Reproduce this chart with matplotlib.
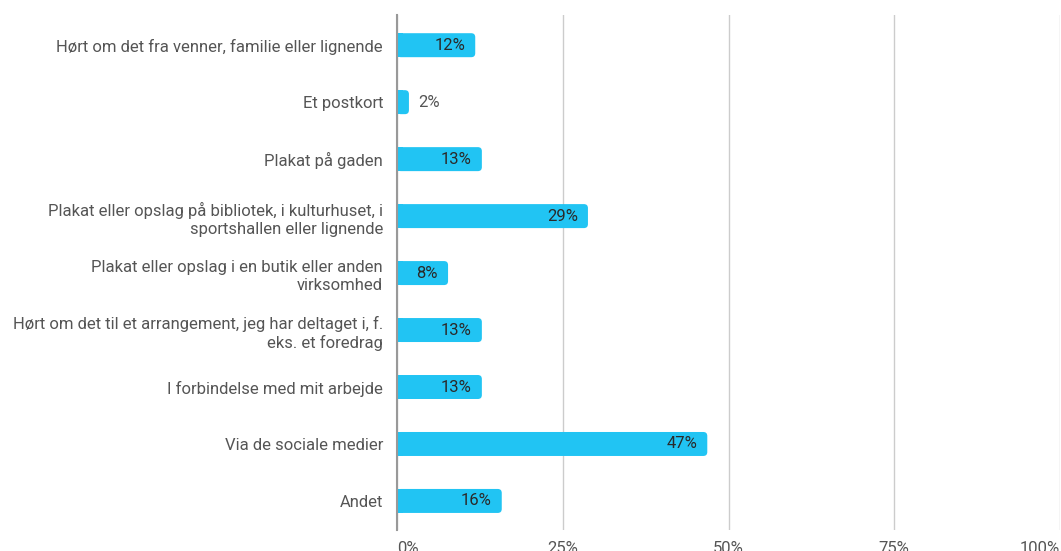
import matplotlib
matplotlib.use("Agg")
import matplotlib.pyplot as plt
from matplotlib.patches import FancyBboxPatch, Rectangle
from matplotlib.ticker import FuncFormatter

plt.rcParams['font.family'] = ['Roboto', 'DejaVu Sans']

categories = [
    "Hørt om det fra venner, familie eller lignende",
    "Et postkort",
    "Plakat på gaden",
    "Plakat eller opslag på bibliotek, i kulturhuset, i\nsportshallen eller lignende",
    "Plakat eller opslag i en butik eller anden\nvirksomhed",
    "Hørt om det til et arrangement, jeg har deltaget i, f.\neks. et foredrag",
    "I forbindelse med mit arbejde",
    "Via de sociale medier",
    "Andet",
]
values = [11.8, 1.8, 12.8, 28.8, 7.7, 12.8, 12.8, 46.8, 15.8]
value_labels = ["12%", "2%", "13%", "29%", "8%", "13%", "13%", "47%", "16%"]
xticks = [0, 25, 50, 75, 100]

FS = 12
W, H, DPI = 1061, 551, 100
fig = plt.figure(figsize=(W / DPI, H / DPI), dpi=DPI)
ax = fig.add_axes([397 / W, 1 - 530 / H, (1060 - 397) / W, (530 - 15) / H])

ax.set_xlim(0, 100)
ax.set_ylim(8.51, -0.53)

bar_color = "#21c4f3"
bar_h = 24 / 57
xpp = 100 / (1060 - 397)
ypp = 1 / 57
r_px = 4
aspect = ypp / xpp

for i, v in enumerate(values):
    y0 = i - bar_h / 2
    p = FancyBboxPatch((0, y0), v, bar_h,
                       boxstyle=f"round,pad=0,rounding_size={r_px * xpp}",
                       mutation_aspect=aspect, fc=bar_color, ec="none", zorder=3)
    ax.add_patch(p)
    ax.add_patch(Rectangle((0, y0), min(v, 6 * xpp), bar_h, fc=bar_color, ec="none", zorder=3))
    if v > 5:
        ax.text(v - 10 * xpp, i, value_labels[i], ha="right", va="center",
                fontsize=FS, color="#2a2a2a", zorder=4)
    else:
        ax.text(v + 9 * xpp, i, value_labels[i], ha="left", va="center",
                fontsize=FS, color="#555555", zorder=4)

ax.set_yticks(range(len(categories)))
ax.set_yticklabels(categories, fontsize=FS, color="#555555", linespacing=1.27)
ax.set_xticks(xticks)
ax.xaxis.set_major_formatter(FuncFormatter(lambda x, p: f"{int(x)}%"))
ax.tick_params(axis="both", length=0)
ax.tick_params(axis="y", pad=10)
ax.tick_params(axis="x", pad=8, labelsize=FS, labelcolor="#555555")
xlabels = ax.get_xticklabels()
xlabels[0].set_horizontalalignment("left")
xlabels[-1].set_horizontalalignment("right")

ax.grid(axis="x", color="#cccccc", linewidth=1, zorder=0)
ax.set_axisbelow(True)
for s in ["top", "right", "bottom"]:
    ax.spines[s].set_visible(False)
ax.spines["left"].set_color("#999999")
ax.spines["left"].set_linewidth(1.5)
ax.spines["left"].set_zorder(5)

fig.savefig("out.png", dpi=DPI)
